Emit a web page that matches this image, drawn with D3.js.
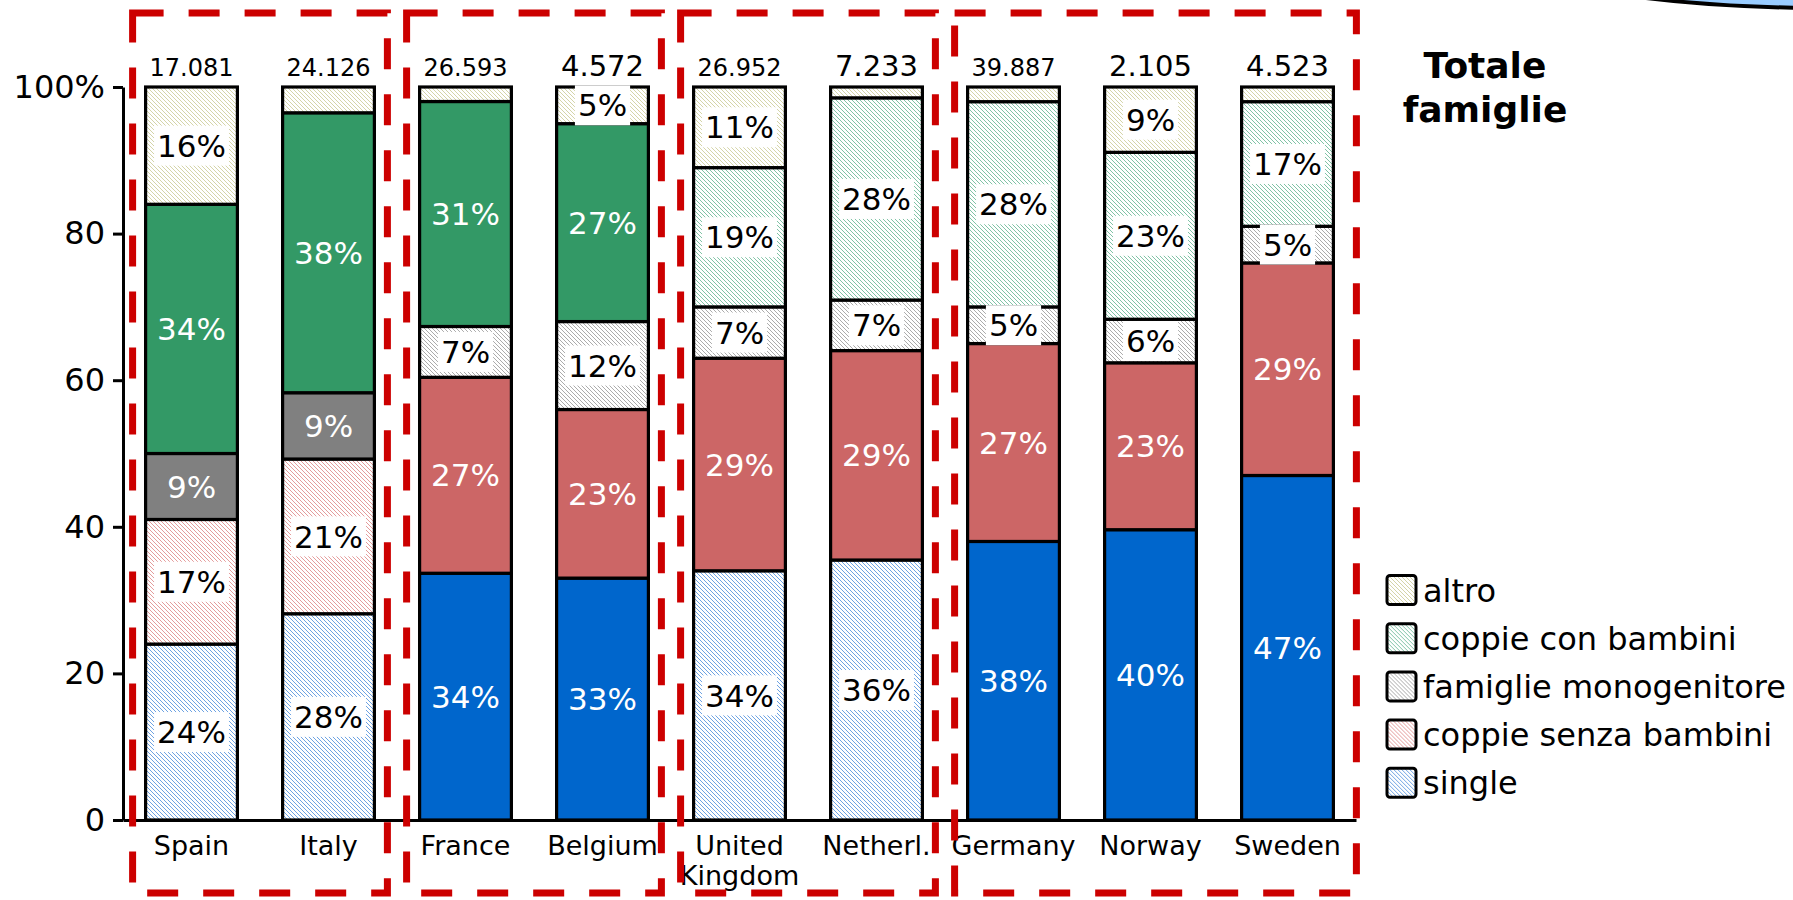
<!DOCTYPE html>
<html>
<head>
<meta charset="utf-8">
<script src="https://cdn.jsdelivr.net/npm/d3@7"></script>
<style>
  html, body { margin: 0; padding: 0; background: #fff; }
  svg { display: block; font-family: "DejaVu Sans", Verdana, sans-serif; }
</style>
</head>
<body>
<svg id="chart" width="1793" height="900"></svg>
<script>
// Household composition by country (share of households, %)
const categories = ["Spain", "Italy", "France", "Belgium", "United Kingdom", "Netherl.", "Germany", "Norway", "Sweden"];
const totals = ["17.081", "24.126", "26.593", "4.572", "26.952", "7.233", "39.887", "2.105", "4.523"];

const single       = [24, 28, 34, 33, 34, 36, 38, 40, 47];
const coppieSenza  = [17, 21, 27, 23, 29, 29, 27, 23, 29];
const monogenitore = [9, 9, 7, 12, 7, 7, 5, 6, 5];
const coppieCon    = [34, 38, 31, 27, 19, 28, 28, 23, 17];
const altro        = [16, 3.5, 2, 5, 11, 1.5, 2, 9, 2];

// which segments are emphasised (solid) rather than hatched
const solidSingle       = [false, false, true, true, false, false, true, true, true];
const solidCoppieSenza  = [false, false, true, true, true, true, true, true, true];
const solidMonogenitore = [true, true, false, false, false, false, false, false, false];
const solidCoppieCon    = [true, true, true, true, false, false, false, false, false];
const solidAltro        = [false, false, false, false, false, false, false, false, false];

const seriesKeys   = ["single", "coppieSenza", "monogenitore", "coppieCon", "altro"];
const seriesLabels = ["single", "coppie senza bambini", "famiglie monogenitore", "coppie con bambini", "altro"];
const yTicks = [0, 0.2, 0.4, 0.6, 0.8, 1];

const groups = [["Spain", "Italy"], ["France", "Belgium"], ["United Kingdom", "Netherl."], ["Germany", "Norway", "Sweden"]];

// ---- table for d3.stack ----
const seriesValues = { single, coppieSenza, monogenitore, coppieCon, altro };
const seriesSolid = {
  single: solidSingle, coppieSenza: solidCoppieSenza, monogenitore: solidMonogenitore,
  coppieCon: solidCoppieCon, altro: solidAltro
};
const rows = categories.map((c, i) => {
  const r = { category: c, index: i };
  seriesKeys.forEach(k => r[k] = seriesValues[k][i]);
  return r;
});

const solidColor = {
  single: "#0066cc", coppieSenza: "#cc6666", monogenitore: "#808080",
  coppieCon: "#339966", altro: "#e8e8cc"
};
const hatchColor = {
  single: "#6ea3e2", coppieSenza: "#e49c9c", monogenitore: "#ababab",
  coppieCon: "#80c3a6", altro: "#d4d4a8"
};

const svg = d3.select("#chart");

// ---- hatch patterns ----
const defs = svg.append("defs");
seriesKeys.forEach(k => {
  const p = defs.append("pattern")
    .attr("id", "hatch-" + k)
    .attr("patternUnits", "userSpaceOnUse")
    .attr("width", 4).attr("height", 4);
  p.append("rect").attr("width", 4).attr("height", 4).attr("fill", "#fff");
  p.append("path")
    .attr("d", "M0,0 l4,4 M-1,3 l2,2 M3,-1 l2,2")
    .attr("stroke", hatchColor[k]).attr("stroke-width", 1);
});

// ---- scales ----
const x = d3.scaleBand()
  .domain(categories)
  .range([123, 1356])
  .paddingInner(0.33)
  .paddingOuter(0.165);
const y = d3.scaleLinear().domain([0, 1]).range([820, 87]);

const stacked = d3.stack().keys(seriesKeys).offset(d3.stackOffsetExpand)(rows);

// ---- stacked bars ----
const layers = svg.append("g").selectAll("g.layer")
  .data(stacked).join("g").attr("class", "layer");

layers.selectAll("rect")
  .data(layer => layer.map(d => ({ key: layer.key, d })))
  .join("rect")
  .attr("x", s => x(s.d.data.category))
  .attr("y", s => y(s.d[1]))
  .attr("width", x.bandwidth())
  .attr("height", s => y(s.d[0]) - y(s.d[1]))
  .attr("fill", s => seriesSolid[s.key][s.d.data.index] ? solidColor[s.key] : `url(#hatch-${s.key})`)
  .attr("stroke", "#000")
  .attr("stroke-width", 3.2);

// ---- segment labels ----
const labelData = [];
stacked.forEach(layer => layer.forEach(d => {
  const v = d.data[layer.key];
  if (v >= 5) labelData.push({ key: layer.key, d, v, solid: seriesSolid[layer.key][d.data.index] });
}));

const labels = svg.append("g").selectAll("g.lbl")
  .data(labelData).join("g").attr("class", "lbl")
  .attr("transform", s => `translate(${x(s.d.data.category) + x.bandwidth() / 2},${y((s.d[0] + s.d[1]) / 2)})`);

labels.each(function (s) {
  const g = d3.select(this);
  const bg = g.append("rect");
  const t = g.append("text")
    .attr("text-anchor", "middle")
    .attr("dy", "0.36em")
    .attr("font-size", 31)
    .attr("fill", s.solid ? "#fff" : "#000")
    .text(s.v + "%");
  if (!s.solid) {
    const w = t.node().getComputedTextLength() + 6;
    bg.attr("x", -w / 2).attr("y", -20).attr("width", w).attr("height", 40).attr("fill", "#fff");
  } else {
    bg.remove();
  }
});

// ---- totals above bars ----
svg.append("g").selectAll("text")
  .data(categories)
  .join("text")
  .attr("x", c => x(c) + x.bandwidth() / 2)
  .attr("y", y(1) - 11)
  .attr("text-anchor", "middle")
  .attr("font-size", (c, i) => totals[i].length > 5 ? 24 : 29)
  .text((c, i) => totals[i]);

// ---- axes ----
const yAxis = svg.append("g")
  .attr("transform", `translate(${x.range()[0]},0)`)
  .call(d3.axisLeft(y).tickValues(yTicks)
    .tickFormat(v => v === 1 ? "100%" : String(Math.round(v * 100)))
    .tickSize(10).tickSizeOuter(0).tickPadding(8));
yAxis.selectAll("path, line").attr("stroke", "#000").attr("stroke-width", 3);
yAxis.selectAll("text").attr("font-size", 32).attr("font-family", "DejaVu Sans, Verdana, sans-serif").attr("fill", "#000");

const xAxis = svg.append("g")
  .attr("transform", `translate(0,${y(0)})`)
  .call(d3.axisBottom(x).tickSize(0).tickSizeOuter(0).tickPadding(16));
xAxis.select(".domain").attr("stroke", "#000").attr("stroke-width", 3);
xAxis.selectAll("text")
  .attr("font-size", 27).attr("font-family", "DejaVu Sans, Verdana, sans-serif").attr("fill", "#000")
  .each(function (c) {
    const words = c.split(" ");
    if (words.length < 2) return;
    const t = d3.select(this).text(null).attr("dy", null);
    words.forEach((w, i) => t.append("tspan").attr("x", 0).attr("dy", i === 0 ? "0.71em" : "1.1em").text(w));
  });

// ---- group frames ----
const pad = 13;
svg.append("g").selectAll("rect")
  .data(groups)
  .join("rect")
  .attr("x", g => x(g[0]) - pad)
  .attr("y", 13)
  .attr("width", g => x(g[g.length - 1]) + x.bandwidth() + pad - (x(g[0]) - pad) + (g.length > 2 ? 10 : 0))
  .attr("height", 880)
  .attr("fill", "none")
  .attr("stroke", "#cc0000")
  .attr("stroke-width", 7)
  .attr("stroke-dasharray", "31 25");

// ---- title ----
const title = svg.append("text")
  .attr("x", 1485).attr("y", 78)
  .attr("text-anchor", "middle")
  .attr("font-size", 36).attr("font-weight", "bold");
title.append("tspan").attr("x", 1485).text("Totale");
title.append("tspan").attr("x", 1485).attr("dy", 44).text("famiglie");

// ---- legend ----
const legendKeys = seriesKeys.slice().reverse();
const legendLabels = seriesLabels.slice().reverse();
const legend = svg.append("g").selectAll("g")
  .data(legendKeys)
  .join("g")
  .attr("transform", (k, i) => `translate(1387,${590 + i * 48.2})`);
legend.append("rect")
  .attr("x", 0).attr("y", -14.5).attr("width", 29).attr("height", 29)
  .attr("rx", 3)
  .attr("fill", k => `url(#hatch-${k})`)
  .attr("stroke", "#000").attr("stroke-width", 3);
legend.append("text")
  .attr("x", 36).attr("dy", "0.36em")
  .attr("font-size", 32)
  .text((k, i) => legendLabels[i]);

// ---- callout edge in the corner ----
svg.append("ellipse")
  .attr("cx", 1830).attr("cy", -52).attr("rx", 331).attr("ry", 60)
  .attr("fill", "#99ccff").attr("stroke", "#000").attr("stroke-width", 4);
</script>
</body>
</html>
